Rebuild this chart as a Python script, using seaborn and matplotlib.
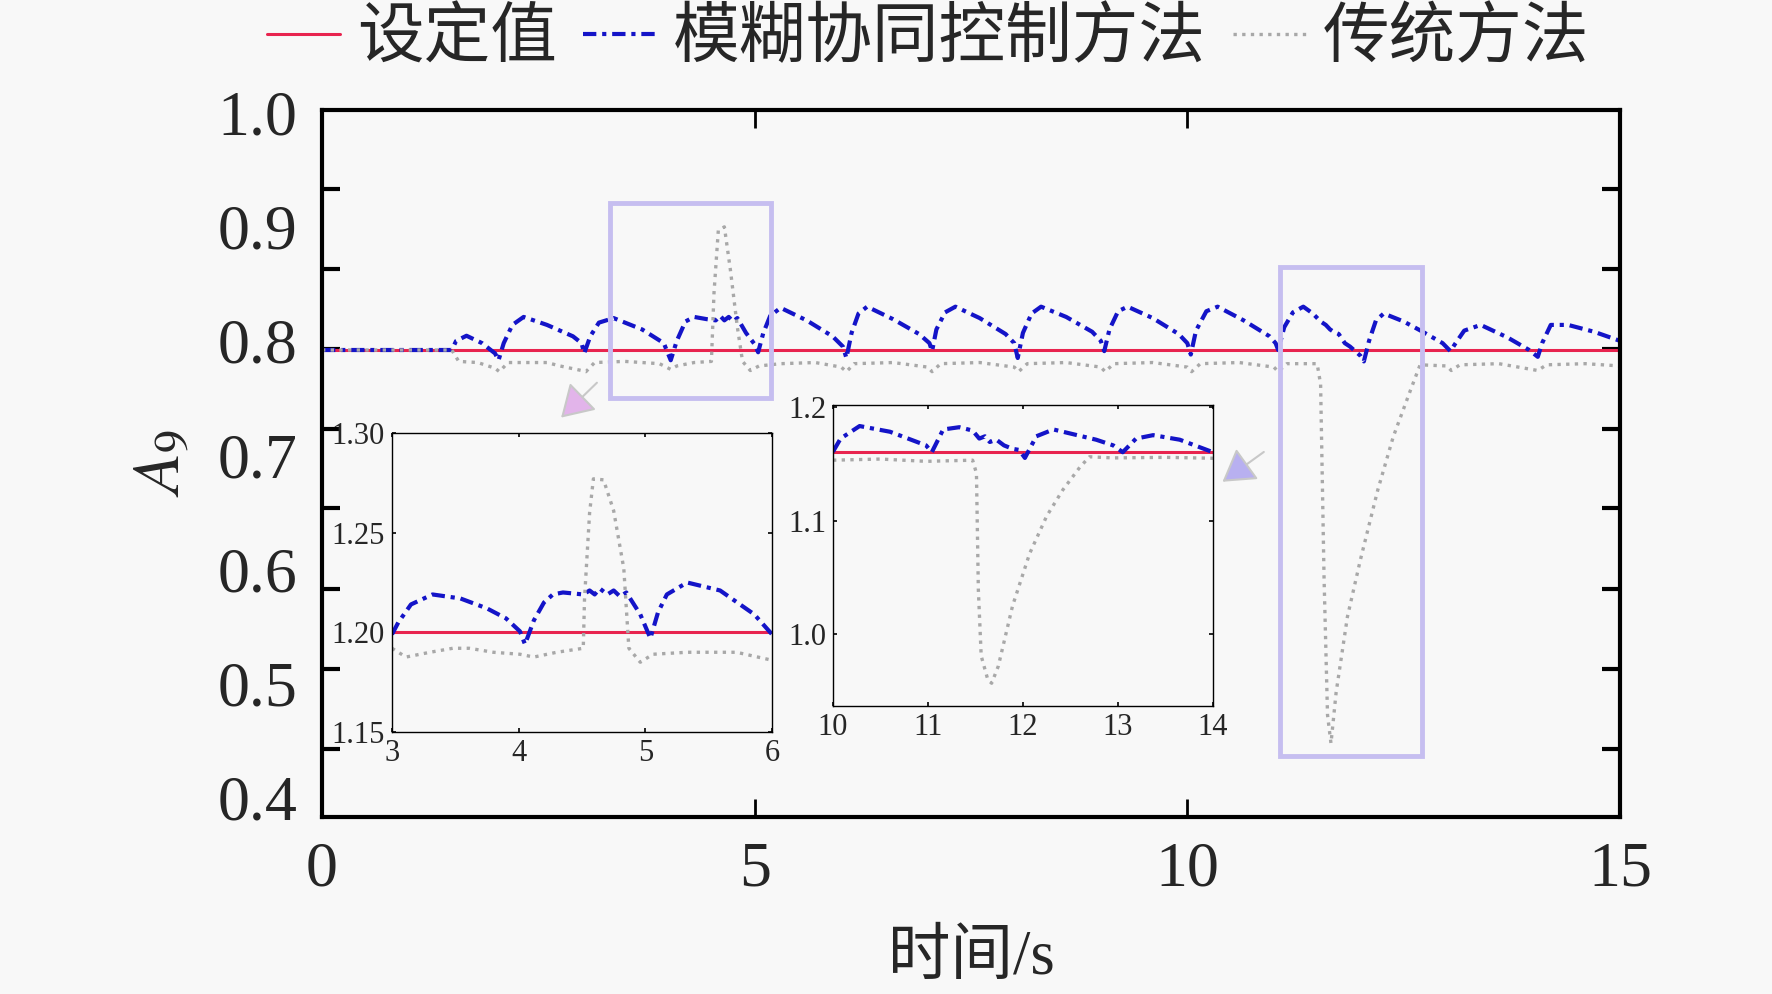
import numpy as np
import pandas as pd
import matplotlib
matplotlib.use("Agg")
import matplotlib.pyplot as plt
import seaborn as sns
import matplotlib.transforms as mtransforms
from matplotlib.ticker import FixedLocator, NullFormatter
from matplotlib.patches import Rectangle

# ---------------- data ----------------
labels = ["设定值", "模糊协同控制方法", "传统方法"]
setpoint_main = 0.80
setpoint_in1 = 1.20
setpoint_in2 = 1.16

fuzzy_t = [0.00, 1.50, 1.55, 1.67, 1.85, 2.00, 2.04, 2.10, 2.20, 2.33, 2.60, 2.90, 3.00, 3.03,
           3.10, 3.20, 3.37, 3.70, 3.95, 4.03, 4.10, 4.20, 4.30, 4.45, 4.55, 4.60, 4.65, 4.70,
           4.75, 4.80, 4.90, 5.00, 5.04, 5.10, 5.18, 5.30, 5.60, 5.90, 6.02, 6.06, 6.12, 6.20,
           6.30, 6.60, 6.90, 7.02, 7.05, 7.10, 7.20, 7.32, 7.60, 7.90, 8.00, 8.04, 8.10, 8.20,
           8.31, 8.60, 8.90, 9.00, 9.04, 9.10, 9.20, 9.31, 9.60, 9.90, 10.00, 10.04, 10.10,
           10.22, 10.35, 10.65, 10.95, 11.02, 11.05, 11.12, 11.22, 11.34, 11.45, 11.54, 11.60,
           11.65, 11.69, 11.75, 11.82, 11.88, 12.00, 12.04, 12.10, 12.18, 12.27, 12.50, 12.72,
           12.95, 13.04, 13.10, 13.20, 13.39, 13.70, 13.95, 14.05, 14.10, 14.20, 14.40, 14.70,
           15.00]
fuzzy_v = [0.800, 0.800, 0.808, 0.8125, 0.806, 0.797, 0.791, 0.806, 0.822, 0.829, 0.822, 0.812,
           0.806, 0.797, 0.812, 0.824, 0.828, 0.818, 0.806, 0.791, 0.808, 0.825, 0.829, 0.827,
           0.826, 0.830, 0.826, 0.829, 0.825, 0.828, 0.815, 0.805, 0.798, 0.815, 0.830, 0.837,
           0.826, 0.812, 0.803, 0.793, 0.815, 0.832, 0.838, 0.827, 0.814, 0.806, 0.799, 0.818,
           0.833, 0.838, 0.828, 0.814, 0.806, 0.793, 0.815, 0.832, 0.838, 0.829, 0.816, 0.808,
           0.799, 0.818, 0.834, 0.838, 0.828, 0.814, 0.806, 0.796, 0.817, 0.834, 0.838, 0.826,
           0.812, 0.806, 0.800, 0.820, 0.833, 0.838, 0.832, 0.825, 0.822, 0.818, 0.816, 0.814,
           0.806, 0.803, 0.795, 0.790, 0.808, 0.826, 0.832, 0.825, 0.816, 0.806, 0.799, 0.806,
           0.817, 0.822, 0.811, 0.800, 0.794, 0.806, 0.822, 0.822, 0.816, 0.808]

trad_t = [0.00, 1.50, 1.58, 1.80, 2.00, 2.05, 2.15, 2.60, 2.75, 3.00, 3.05, 3.15, 3.50, 3.90,
          4.03, 4.10, 4.30, 4.50, 4.53, 4.58, 4.65, 4.72, 4.80, 4.86, 4.95, 5.05, 5.30, 5.70,
          6.00, 6.06, 6.15, 6.60, 7.00, 7.05, 7.15, 7.60, 8.00, 8.05, 8.15, 8.60, 9.00, 9.05,
          9.15, 9.60, 10.00, 10.05, 10.15, 10.60, 11.00, 11.05, 11.15, 11.50, 11.54, 11.58,
          11.62, 11.66, 11.72, 11.85, 12.00, 12.20, 12.38, 12.58, 12.69, 13.00, 13.05, 13.15,
          13.60, 14.05, 14.15, 14.60, 15.00]
trad_v = [0.800, 0.800, 0.790, 0.789, 0.784, 0.781, 0.789, 0.789, 0.786, 0.782, 0.781, 0.789,
          0.790, 0.788, 0.783, 0.786, 0.789, 0.790, 0.850, 0.905, 0.908, 0.870, 0.820, 0.790,
          0.782, 0.786, 0.788, 0.789, 0.785, 0.781, 0.788, 0.789, 0.785, 0.781, 0.788, 0.789,
          0.785, 0.781, 0.788, 0.789, 0.785, 0.781, 0.788, 0.789, 0.785, 0.781, 0.788, 0.789,
          0.785, 0.781, 0.788, 0.788, 0.770, 0.600, 0.480, 0.455, 0.500, 0.566, 0.616, 0.677,
          0.724, 0.765, 0.787, 0.786, 0.782, 0.787, 0.788, 0.782, 0.787, 0.788, 0.786]

in1_fuzzy_t = [3.00, 3.05, 3.15, 3.32, 3.54, 3.75, 3.90, 4.01, 4.05, 4.12, 4.20, 4.27, 4.35, 4.51,
               4.56, 4.60, 4.64, 4.70, 4.75, 4.80, 4.85, 4.90, 4.96, 5.00, 5.04, 5.10, 5.17, 5.33,
               5.59, 5.86, 6.00]
in1_fuzzy_v = [1.199, 1.205, 1.214, 1.219, 1.217, 1.212, 1.207, 1.2005, 1.194, 1.206, 1.215, 1.219,
               1.220, 1.219, 1.221, 1.219, 1.222, 1.219, 1.221, 1.218, 1.220, 1.215, 1.209, 1.203,
               1.197, 1.210, 1.219, 1.225, 1.221, 1.209, 1.199]
in1_trad_t = [3.00, 3.11, 3.30, 3.48, 3.61, 3.80, 4.01, 4.12, 4.30, 4.51, 4.52, 4.56, 4.59, 4.67,
              4.75, 4.83, 4.87, 4.96, 5.06, 5.33, 5.72, 6.00]
in1_trad_v = [1.192, 1.1876, 1.190, 1.192, 1.192, 1.190, 1.189, 1.1876, 1.190, 1.192, 1.217, 1.260,
              1.277, 1.2765, 1.261, 1.232, 1.192, 1.185, 1.189, 1.190, 1.190, 1.186]

in2_fuzzy_t = [10.00, 10.08, 10.28, 10.60, 10.98, 11.04, 11.16, 11.33, 11.47, 11.54, 11.60, 11.65,
               11.72, 11.80, 11.89, 11.96, 12.02, 12.14, 12.32, 12.77, 12.95, 13.05, 13.19, 13.37,
               13.65, 14.00]
in2_fuzzy_v = [1.1605, 1.172, 1.183, 1.178, 1.166, 1.160, 1.180, 1.182, 1.179, 1.172, 1.174, 1.169,
               1.171, 1.166, 1.163, 1.162, 1.155, 1.174, 1.180, 1.171, 1.166, 1.160, 1.172, 1.175,
               1.171, 1.160]
in2_trad_t = [10.00, 10.50, 10.98, 11.47, 11.51, 11.53, 11.56, 11.63, 11.67, 11.74, 11.89, 12.07,
              12.25, 12.42, 12.60, 12.70, 12.95, 13.50, 14.00]
in2_trad_v = [1.153, 1.154, 1.152, 1.153, 1.1415, 1.039, 0.981, 0.960, 0.957, 0.972, 1.025, 1.071,
              1.104, 1.127, 1.147, 1.156, 1.155, 1.1555, 1.1547]

main_xticks = [0, 5, 10, 15]
main_yticks = [0.4, 0.5, 0.6, 0.7, 0.8, 0.9, 1.0]
main_ymarks = [0.450, 0.520, 0.590, 0.661, 0.731, 0.801, 0.871, 0.941]
in1_xticks = [3, 4, 5, 6]
in1_yticks = [1.15, 1.20, 1.25, 1.30]
in2_xticks = [10, 11, 12, 13, 14]
in2_yticks = [1.0, 1.1, 1.2]

# ---------------- style ----------------
BG = "#F8F8F8"
RED = "#E8244F"
BLUE = "#1414C8"
GRAY = "#A8A8A8"
BOX = "#C6BEF0"
SERIF_CJK = ["Liberation Serif", "Noto Sans CJK SC", "DejaVu Sans"]

sns.set_theme(style="ticks")
plt.rcParams["font.family"] = SERIF_CJK
plt.rcParams["mathtext.fontset"] = "stix"
plt.rcParams["axes.unicode_minus"] = False

W, H = 1772, 994
fig = plt.figure(figsize=(W / 100, H / 100), dpi=100, facecolor=BG)


def frac(l, t, r, b):
    return [l / W, 1 - b / H, (r - l) / W, (b - t) / H]


BLUE_LS = (0, (3.2, 1.4, 1, 1.4))
GRAY_LS = (0, (1, 1.6))


def draw_series(ax, t_set, y_set, t_f, v_f, t_tr, v_tr, lw_scale=1.0):
    d0 = pd.DataFrame({"t": t_set, "v": y_set})
    d1 = pd.DataFrame({"t": t_f, "v": v_f})
    d2 = pd.DataFrame({"t": t_tr, "v": v_tr})
    sns.lineplot(data=d0, x="t", y="v", ax=ax, color=RED, lw=2.2 * lw_scale,
                 estimator=None, label=labels[0])
    h0 = ax.lines[-1]
    sns.lineplot(data=d1, x="t", y="v", ax=ax, color=BLUE, lw=3.0 * lw_scale,
                 linestyle=BLUE_LS, estimator=None, label=labels[1])
    h1 = ax.lines[-1]
    sns.lineplot(data=d2, x="t", y="v", ax=ax, color=GRAY, lw=2.4 * lw_scale,
                 linestyle=GRAY_LS, estimator=None, label=labels[2])
    h2 = ax.lines[-1]
    if ax.get_legend() is not None:
        ax.get_legend().remove()
    return [h0, h1, h2]


# ---------------- main axes ----------------
ax = fig.add_axes(frac(322, 110, 1620, 817), facecolor=BG)
handles = draw_series(ax, [0, 15], [setpoint_main, setpoint_main],
                      fuzzy_t, fuzzy_v, trad_t, trad_v)
ax.set_xlim(0, 15)
ax.set_ylim(0.3904, 1.0105)
ax.set_xticks(main_xticks)
ax.set_xticklabels([str(v) for v in main_xticks])
ax.set_yticks(main_yticks)
ax.set_yticklabels([f"{v:.1f}" for v in main_yticks])
ax.yaxis.set_minor_locator(FixedLocator(main_ymarks))
ax.yaxis.set_minor_formatter(NullFormatter())
ax.tick_params(axis="y", which="major", length=0, pad=18, labelsize=46)
ax.tick_params(axis="y", which="minor", direction="in", length=13, width=3,
               left=True, right=True, color="black")
ax.tick_params(axis="x", which="major", direction="in", length=13, width=2,
               top=True, bottom=True, pad=18, labelsize=46, color="black")
ax.tick_params(axis="x", which="minor", bottom=False, top=False)
for s in ax.spines.values():
    s.set_visible(True)
    s.set_linewidth(3)
    s.set_color("black")
offset = mtransforms.ScaledTranslation(0, 9 / 100, fig.dpi_scale_trans)
for lab in ax.get_yticklabels():
    lab.set_transform(lab.get_transform() + offset)
ax.set_xlabel("时间/s", fontsize=45, family=SERIF_CJK)
ax.xaxis.set_label_coords(0.5, -0.160)
ax.set_ylabel(r"$A_9$", fontsize=48)
ax.yaxis.set_label_coords(-0.100, 0.5)

# zoom boxes
ax.add_patch(Rectangle((3.33, 0.758), 1.86, 0.171, fill=False, ec=BOX, lw=3.5, zorder=5))
ax.add_patch(Rectangle((11.07, 0.444), 1.64, 0.429, fill=False, ec=BOX, lw=3.5, zorder=5))
# arrows
ax.annotate("", xy=(2.74, 0.739), xytext=(3.20, 0.773),
            arrowprops=dict(arrowstyle="-|>,head_length=0.9,head_width=0.55",
                            mutation_scale=22, ec="#C8C8C8", fc="#E2B4EA", lw=1.5))
ax.annotate("", xy=(10.38, 0.683), xytext=(10.91, 0.712),
            arrowprops=dict(arrowstyle="-|>,head_length=0.9,head_width=0.55",
                            mutation_scale=22, ec="#C8C8C8", fc="#B8B0F0", lw=1.5))


def style_inset(a):
    for s in a.spines.values():
        s.set_visible(True)
        s.set_linewidth(1.0)
        s.set_color("black")
    a.tick_params(direction="in", length=3, width=1.2, top=True, right=True,
                  labelsize=22, pad=5, color="black")
    a.set_xlabel("")
    a.set_ylabel("")


# ---------------- inset 1 ----------------
ai1 = fig.add_axes(frac(392, 433, 772, 732), facecolor=BG)
draw_series(ai1, [3, 6], [setpoint_in1, setpoint_in1],
            in1_fuzzy_t, in1_fuzzy_v, in1_trad_t, in1_trad_v, lw_scale=1.0)
ai1.set_xlim(3, 6)
ai1.set_ylim(1.15, 1.30)
ai1.set_xticks(in1_xticks)
ai1.set_xticklabels([str(v) for v in in1_xticks])
ai1.set_yticks(in1_yticks)
ai1.set_yticklabels([f"{v:.2f}" for v in in1_yticks])
style_inset(ai1)

# ---------------- inset 2 ----------------
ai2 = fig.add_axes(frac(833, 405, 1213, 706), facecolor=BG)
draw_series(ai2, [10, 14], [setpoint_in2, setpoint_in2],
            in2_fuzzy_t, in2_fuzzy_v, in2_trad_t, in2_trad_v, lw_scale=1.0)
ai2.set_xlim(10, 14)
ai2.set_ylim(0.937, 1.2015)
ai2.set_xticks(in2_xticks)
ai2.set_xticklabels([str(v) for v in in2_xticks])
ai2.set_yticks(in2_yticks)
ai2.set_yticklabels([f"{v:.1f}" for v in in2_yticks])
style_inset(ai2)

# ---------------- legend ----------------
fig.legend(handles, labels, loc="center", bbox_to_anchor=(928 / W, 1 - 40 / H),
           ncol=3, frameon=False, handlelength=1.1, handletextpad=0.25,
           columnspacing=0.4, borderaxespad=0, borderpad=0,
           prop=dict(family=SERIF_CJK, size=48))

fig.savefig("out.png", dpi=100, facecolor=BG)
